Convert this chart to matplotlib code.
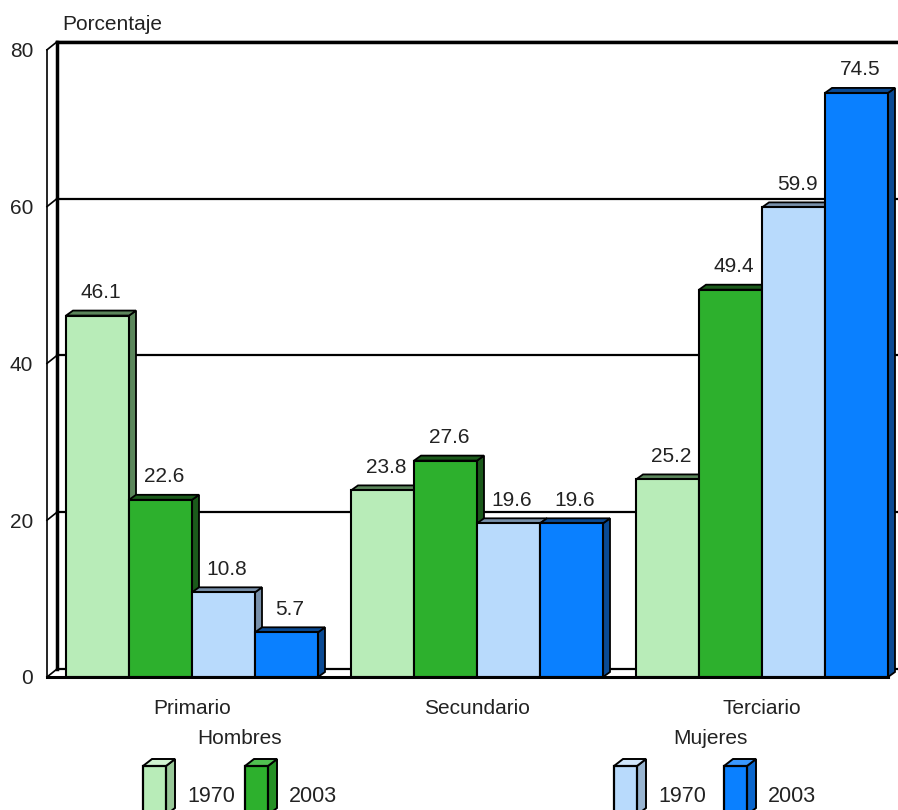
import numpy as np
import matplotlib.pyplot as plt
from matplotlib.patches import Polygon, Rectangle

plt.rcParams['font.family'] = ['Liberation Sans', 'DejaVu Sans']

# data
niveles = ['Primario', 'Secundario', 'Terciario']
series = ['Hombres 1970', 'Hombres 2003', 'Mujeres 1970', 'Mujeres 2003']
valores = [
    [46.1, 23.8, 25.2],   # Hombres 1970
    [22.6, 27.6, 49.4],   # Hombres 2003
    [10.8, 19.6, 59.9],   # Mujeres 1970
    [5.7, 19.6, 74.5],    # Mujeres 2003
]
yticks = [0, 20, 40, 60, 80]

# colours: front, side/top
front = ['#b8ecb8', '#2db02d', '#b8dafc', '#0a80ff']
side = ['#5b865b', '#1b5a1b', '#7890aa', '#0a4a94']
leg_side = ['#98c898', '#259025', '#98b4d0', '#0a66cc']
leg_top = ['#d0f4d0', '#50c050', '#d0e6fc', '#3a98ff']
txt = '#222222'
fs = 15

W, H = 898, 810
fig = plt.figure(figsize=(W / 100, H / 100), dpi=100)

# main axes (front baseline at pixel 677, 7.84 px per unit)
x0px, x1px = 47, 898
ybot, ytop = 677, 42
ax = fig.add_axes([x0px / W, (H - ybot) / H, (x1px - x0px) / W, (ybot - ytop) / H])
xscale = 285.0
xl = (x0px - 192) / xscale
xr = (x1px - 192) / xscale
ax.set_xlim(xl, xr)
ymax = (ybot - ytop) / 7.84
ax.set_ylim(0, ymax)
for s in ax.spines.values():
    s.set_visible(False)

# depth of walls and bars in data units
wdx, wdy = 10 / xscale, 8 / 7.84
bdx, bdy = 7 / xscale, 5 / 7.84

# back wall gridlines
for v in yticks:
    ax.plot([xl + wdx, xr], [v + wdy, v + wdy], color='black', lw=1.6, zorder=1,
            clip_on=False)
ax.plot([xl + wdx, xl + wdx], [wdy, 80 + wdy], color='black', lw=2.5, zorder=1, clip_on=False)
ax.plot([xl + wdx, xr], [80 + wdy, 80 + wdy], color='black', lw=2.5, zorder=1, clip_on=False)
# left wall
for v in yticks:
    ax.plot([xl, xl + wdx], [v, v + wdy], color='black', lw=1.2, zorder=1, clip_on=False)
ax.plot([xl, xl], [0, 80], color='black', lw=1.2, zorder=1, clip_on=False)
# floor front edge
ax.plot([xl, xr - wdx], [0, 0], color='black', lw=2.2, zorder=50, clip_on=False)

# bars
w = 63 / xscale
x = np.arange(len(niveles))
z = 5
for g in range(len(niveles)):
    for i in range(len(series)):
        v = valores[i][g]
        xc = x[g] + (i - 1.5) * w
        a, b = xc - w / 2, xc + w / 2
        ax.add_patch(Polygon([(b, 0), (b + bdx, bdy), (b + bdx, v + bdy), (b, v)],
                             closed=True, facecolor=side[i], edgecolor='black', lw=1.3, zorder=z))
        ax.add_patch(Polygon([(a, v), (a + bdx, v + bdy), (b + bdx, v + bdy), (b, v)],
                             closed=True, facecolor=side[i], edgecolor='black', lw=1.3, zorder=z))
        ax.bar(xc, v, w, color=front[i], edgecolor='black', linewidth=1.5, zorder=z + 1)
        ax.text(xc + bdx / 2, v + bdy + 1.1, f'{v:.1f}', ha='center', va='bottom',
                fontsize=fs, color=txt, zorder=z + 2)
        z += 2

ax.set_yticks(yticks)
ax.set_yticklabels([str(t) for t in yticks], fontsize=fs, color=txt)
ax.set_xticks(x)
ax.set_xticklabels(niveles, fontsize=fs, color=txt)
ax.tick_params(axis='y', length=0, pad=10)
ax.tick_params(axis='x', length=0, pad=16)
fig.text(62 / W, 1 - 24 / H, 'Porcentaje', fontsize=fs, color=txt, va='center')

# legend drawn in pixel coordinates
lg = fig.add_axes([0, 0, 1, 1], zorder=-1)
lg.set_xlim(0, W)
lg.set_ylim(H, 0)
lg.axis('off')
fig.text(240 / W, 1 - 738 / H, 'Hombres', ha='center', va='center', fontsize=fs, color=txt)
fig.text(710 / W, 1 - 738 / H, 'Mujeres', ha='center', va='center', fontsize=fs, color=txt)
icon_x = [143, 245, 614, 724]
for i, ix in enumerate(icon_x):
    fw, ddx, ddy, top = 23, 9, 7, 766
    lg.add_patch(Polygon([(ix + fw, H + 5), (ix + fw + ddx, H + 5 - ddy), (ix + fw + ddx, top - ddy), (ix + fw, top)],
                         closed=True, facecolor=leg_side[i], edgecolor='black', lw=1.4))
    lg.add_patch(Polygon([(ix, top), (ix + ddx, top - ddy), (ix + fw + ddx, top - ddy), (ix + fw, top)],
                         closed=True, facecolor=leg_top[i], edgecolor='black', lw=1.4))
    lg.add_patch(Rectangle((ix, top), fw, H + 5 - top, facecolor=front[i], edgecolor='black', lw=1.6))
    lg.text(ix + 44, 797, series[i].split()[1], ha='left', va='center', fontsize=fs + 0.5, color=txt)

fig.savefig('out.png', dpi=100)
